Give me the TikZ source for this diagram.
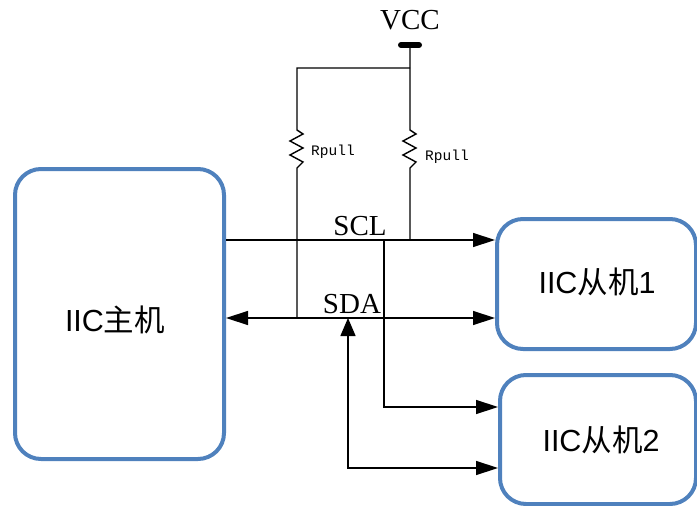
\documentclass[tikz,border=0pt]{standalone}
\usepackage{fontspec}
\setmainfont{Liberation Serif}
\newfontfamily\cjk{Noto Sans CJK SC}
\newfontfamily\sansf{Liberation Sans}
\newfontfamily\monof{Liberation Mono}
\usetikzlibrary{arrows.meta}
\definecolor{boxblue}{RGB}{79,129,189}
\begin{document}
\begin{tikzpicture}[x=1pt,y=-1pt,
  box/.style={draw=boxblue, line width=4pt, rounded corners=26pt, inner sep=0pt, anchor=north west},
  wire/.style={line width=1.4pt},
  arr/.style={wire, -{Triangle[length=22pt,width=14pt]}},
  biarr/.style={wire, {Triangle[length=22pt,width=14pt]}-{Triangle[length=22pt,width=14pt]}},
  uparr/.style={wire, {Triangle[length=18pt,width=15pt]}-{Triangle[length=22pt,width=14pt]}},
  lbl/.style={font=\fontsize{29}{32}\selectfont, inner sep=0pt},
  rlbl/.style={font=\monof\fontsize{14.5}{16}\selectfont, inner sep=0pt, anchor=west},
  btxt/.style={font=\fontsize{30.5}{34}\selectfont}
]
\useasboundingbox (0,0) rectangle (697,506);
% boxes
\node[box, minimum width=209pt, minimum height=290pt] (m) at (13,167) {};
\node[btxt] at (115,320) {\sansf IIC\cjk 主机};
\node[box, minimum width=199pt, minimum height=130pt] (s1) at (495,217) {};
\node[btxt] at (597,282) {\sansf IIC\cjk 从机\sansf 1};
\node[box, minimum width=196pt, minimum height=129pt] (s2) at (498,373) {};
\node[btxt] at (601,440) {\sansf IIC\cjk 从机\sansf 2};
% VCC
\node[lbl] (vcc) at (410,20) {VCC};
\coordinate (bar) at (410,45);
\draw[line width=6pt, line cap=round] (401,45) -- (419,45);
\coordinate (tr) at (410,68);
\coordinate (tl) at (297,68);
% junctions
\coordinate (sclr) at (410,240);
\coordinate (sdal) at (297,318);
\coordinate (sclj) at (384,240);
\coordinate (sdaj) at (348,318);
% top wires and resistors
\draw[wire] (bar) -- (410,130) -- (416,134) -- (403,141) -- (416,148) -- (403,155) -- (416,162) -- (410,168) -- (sclr);
\draw[wire] (tr) -- (tl) -- (297,130) -- (303,134) -- (290,141) -- (303,148) -- (290,155) -- (303,162) -- (297,168) -- (sdal);
\node[rlbl] (r1) at (311,152) {Rpull};
\node[rlbl] (r2) at (425,157) {Rpull};
% buses
\draw[arr] (m.east |- sclr) -- (s1.west |- sclr);
\draw[biarr] (m.east |- sdal) -- (s1.west |- sdal);
\node[lbl] (scl) at (360,226) {SCL};
\node[lbl] (sda) at (352,304) {SDA};
% branches to slave 2
\draw[arr] (sclj) -- (384,407) -- (s2.west |- 0,407);
\draw[uparr] (sdaj) -- (348,468) -- (s2.west |- 0,468);
\end{tikzpicture}
\end{document}
